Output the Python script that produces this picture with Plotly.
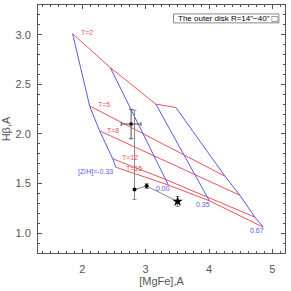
import plotly.graph_objects as go

# Model grid: ages (Gyr) and metallicities
ages = [2, 5, 8, 12, 15]
zh = [-0.33, 0.00, 0.35, 0.67]
# [MgFe] and Hbeta for each metallicity (rows) at each age (columns)
mgfe_grid = [
    [1.847, 2.115, 2.272, 2.480, 2.528],
    [2.441, 2.959, 3.132, 3.315, 3.359],
    [3.161, 3.609, 3.780, 3.973, 4.005],
    [3.476, 4.252, 4.488, 4.724, 4.855],
]
hb_grid = [
    [3.010, 2.283, 2.032, 1.750, 1.665],
    [2.670, 2.000, 1.778, 1.541, 1.485],
    [2.300, 1.784, 1.587, 1.364, 1.327],
    [2.267, 1.574, 1.382, 1.162, 1.061],
]
age_labels = ["T=2", "T=5", "T=8", "T=12", "T=15"]
zh_labels = ["[Z/H]=-0.33", "0.00", "0.35", "0.67"]

# Outer disk measurement
disk_mgfe = [2.77]
disk_hb = [2.10]
disk_err_x = [0.157]
disk_err_y = [0.148]

# Profile points
prof_mgfe = [2.824, 3.016, 3.504]
prof_hb = [1.44, 1.475, 1.32]
prof_err_plus = [0.80, 0.025, 0.05]
prof_err_minus = [0.10, 0.025, 0.05]

RED = "rgb(236,84,88)"
BLUE = "rgb(88,88,228)"
AX = "#555555"
FONT = "Liberation Sans"

fig = go.Figure()

for i, a in enumerate(ages):
    fig.add_trace(go.Scatter(
        x=[mgfe_grid[z][i] for z in range(len(zh))],
        y=[hb_grid[z][i] for z in range(len(zh))],
        mode="lines", line=dict(color=RED, width=1), showlegend=False, hoverinfo="skip"))

for z in range(len(zh)):
    fig.add_trace(go.Scatter(
        x=mgfe_grid[z], y=hb_grid[z],
        mode="lines", line=dict(color=BLUE, width=1), showlegend=False, hoverinfo="skip"))

# profile points connected
fig.add_trace(go.Scatter(
    x=prof_mgfe, y=prof_hb, mode="lines",
    line=dict(color="#888888", width=1), showlegend=False))
fig.add_trace(go.Scatter(
    x=prof_mgfe[:2], y=prof_hb[:2], mode="markers",
    marker=dict(color="black", size=4, symbol="circle"),
    error_y=dict(type="data", array=prof_err_plus[:2], arrayminus=prof_err_minus[:2],
                 color="#888888", thickness=1, width=2),
    showlegend=False))
fig.add_trace(go.Scatter(
    x=prof_mgfe[2:], y=prof_hb[2:], mode="markers",
    marker=dict(color="black", size=8, symbol="star"),
    error_y=dict(type="data", array=prof_err_plus[2:], arrayminus=prof_err_minus[2:],
                 color="#888888", thickness=1, width=2),
    showlegend=False))

# disk point
fig.add_trace(go.Scatter(
    x=disk_mgfe, y=disk_hb, mode="markers",
    marker=dict(color="rgba(0,0,0,0)", size=7, symbol="square-open",
                line=dict(color="#333333", width=1)),
    error_x=dict(type="data", array=disk_err_x, color="#555555", thickness=1, width=2),
    error_y=dict(type="data", array=disk_err_y, color="#555555", thickness=1, width=2),
    showlegend=False))
fig.add_trace(go.Scatter(
    x=disk_mgfe, y=disk_hb, mode="markers",
    marker=dict(color="black", size=3, symbol="square"), showlegend=False))

# age labels
age_lab_pos = [(1.953, 3.02), (2.22, 2.294), (2.362, 2.032), (2.598, 1.765), (2.65, 1.656)]
for t, (x, y) in zip(age_labels, age_lab_pos):
    fig.add_annotation(x=x, y=y, text=t, showarrow=False, xanchor="left", yanchor="middle",
                       font=dict(family=FONT, size=7, color=RED))

zh_lab_pos = [(2.52, 1.619, "right"), (3.268, 1.453, "center"), (3.91, 1.293, "center"), (4.751, 1.027, "center")]
for t, (x, y, xa) in zip(zh_labels, zh_lab_pos):
    fig.add_annotation(x=x, y=y, text=t, showarrow=False, xanchor=xa, yanchor="middle",
                       font=dict(family=FONT, size=7, color=BLUE))

# legend box
fig.add_shape(type="rect", x0=3.44, x1=5.105, y0=3.12, y1=3.21,
              line=dict(color="#888888", width=1), fillcolor="white", layer="above")
fig.add_annotation(x=3.48, y=3.165, text='The outer disk R=14"\u221240"', showarrow=False,
                   xanchor="left", yanchor="middle", font=dict(family=FONT, size=8, color="black"))
fig.add_annotation(x=5.035, y=3.165, text="\u25a1", showarrow=False,
                   xanchor="center", yanchor="middle", font=dict(family="DejaVu Sans", size=8, color="#555555"))

axis_common = dict(
    showline=True, linecolor=AX, linewidth=1, mirror="allticks",
    ticks="inside", ticklen=4, tickcolor=AX, showgrid=False, zeroline=False,
    tickfont=dict(family=FONT, size=11, color=AX), automargin=False,
)
fig.update_xaxes(range=[1.3, 5.2], tick0=0, dtick=1,
                 minor=dict(ticks="inside", ticklen=2, tick0=0, dtick=0.125, tickcolor=AX),
                 title=dict(text="[MgFe],A", font=dict(family=FONT, size=11, color=AX), standoff=2),
                 ticklabelstandoff=6, **axis_common)
fig.update_yaxes(range=[0.8, 3.3], tick0=0, dtick=0.5, tickformat=".1f",
                 minor=dict(ticks="inside", ticklen=2, tick0=0, dtick=0.1, tickcolor=AX),
                 title=dict(text="H\u03b2,A", font=dict(family=FONT, size=11, color=AX), standoff=2),
                 ticklabelstandoff=4, **axis_common)

fig.update_layout(width=291, height=291, margin=dict(l=38, r=6, t=5, b=38),
                  plot_bgcolor="white", paper_bgcolor="white", showlegend=False)

fig.write_html("out.html", config={"displayModeBar": False},
               post_script="document.body.style.margin='0';document.body.style.overflow='hidden';")
